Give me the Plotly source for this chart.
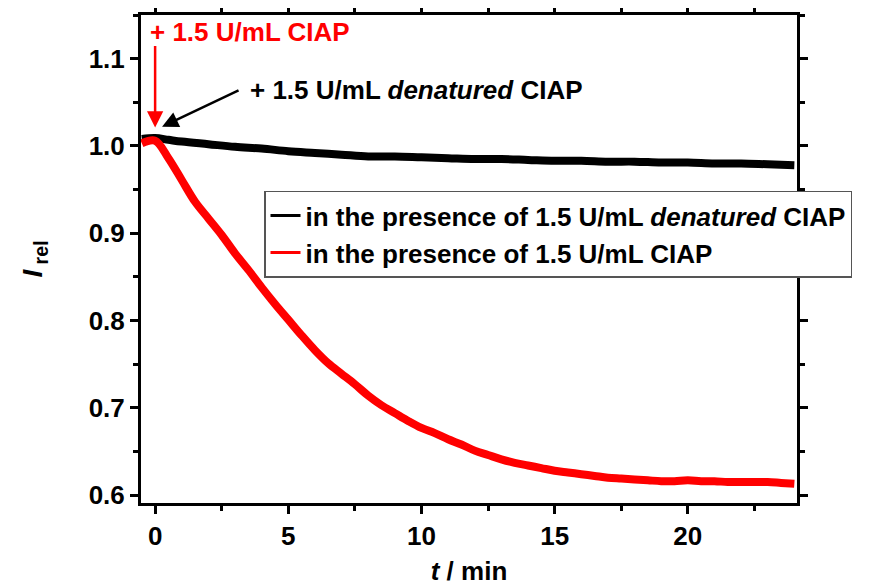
import plotly.graph_objects as go

# time (min)
t_red = [-0.5, 0.0, 0.5, 1.0, 1.5, 2.0, 2.5, 3.0, 3.5, 4.0, 4.5, 5.0, 5.5, 6.0, 6.5, 7.0, 7.5,
         8.0, 8.5, 9.0, 9.5, 10.0, 10.5, 11.0, 11.5, 12.0, 12.5, 13.0, 13.5, 14.0, 14.5, 15.0,
         15.5, 16.0, 16.5, 17.0, 17.5, 18.0, 18.5, 19.0, 19.5, 20.0, 20.5, 21.0, 21.5, 22.0,
         22.5, 23.0, 23.5, 24.0]
i_red = [1.003, 1.006, 0.986, 0.961, 0.936, 0.917, 0.898, 0.877, 0.858, 0.838, 0.819, 0.801,
         0.783, 0.766, 0.751, 0.739, 0.727, 0.714, 0.703, 0.694, 0.685, 0.677, 0.671, 0.664,
         0.658, 0.651, 0.646, 0.641, 0.637, 0.634, 0.631, 0.628, 0.626, 0.624, 0.622, 0.620,
         0.619, 0.618, 0.617, 0.616, 0.616, 0.617, 0.616, 0.616, 0.615, 0.615, 0.615, 0.615,
         0.614, 0.613]

t_black = [-0.5, 0.0, 0.5, 1.0, 2.0, 3.0, 4.0, 5.0, 6.0, 7.0, 8.0, 9.0, 10.0, 11.0, 12.0,
           13.0, 14.0, 15.0, 16.0, 17.0, 18.0, 19.0, 20.0, 21.0, 22.0, 23.0, 24.0]
i_black = [1.008, 1.009, 1.007, 1.005, 1.002, 0.999, 0.997, 0.994, 0.992, 0.990, 0.988,
           0.988, 0.987, 0.986, 0.985, 0.985, 0.984, 0.983, 0.983, 0.982, 0.982, 0.981,
           0.981, 0.980, 0.980, 0.979, 0.978]

x_ticks = [0, 5, 10, 15, 20]
y_ticks = [0.6, 0.7, 0.8, 0.9, 1.0, 1.1]
y_tick_labels = ["0.6", "0.7", "0.8", "0.9", "1.0", "1.1"]

name_black = "in the presence of 1.5 U/mL <i>denatured</i> CIAP"
name_red = "in the presence of 1.5 U/mL CIAP"

FONT = "Arial, Liberation Sans, sans-serif"
FS = 26

fig = go.Figure()
fig.add_trace(go.Scatter(x=t_black, y=i_black, mode="lines", showlegend=False,
                         line=dict(color="black", width=8, shape="spline")))
fig.add_trace(go.Scatter(x=t_red, y=i_red, mode="lines", showlegend=False,
                         line=dict(color="#ff0000", width=8, shape="spline")))
# legend entries (thin sample lines as in the reference)
fig.add_trace(go.Scatter(x=[None], y=[None], mode="lines",
                         line=dict(color="black", width=3), name=name_black))
fig.add_trace(go.Scatter(x=[None], y=[None], mode="lines",
                         line=dict(color="#ff0000", width=3), name=name_red))

axis_common = dict(
    showline=True, linecolor="black", linewidth=3, mirror="ticks",
    ticks="outside", ticklen=8, tickwidth=2.5, tickcolor="black",
    showgrid=False, zeroline=False,
    tickfont=dict(family=FONT, size=FS, color="black", weight="bold"),
)

fig.update_xaxes(range=[-0.53, 24.1], tickvals=x_ticks,
                 minor=dict(dtick=2.5, tick0=0, ticks="outside", ticklen=5, tickwidth=2.5,
                            tickcolor="black"),
                 title=dict(text="<i>t</i> / min", standoff=12,
                            font=dict(family=FONT, size=FS, color="black", weight="bold")),
                 **axis_common)
fig.update_yaxes(range=[0.591, 1.15], tickvals=y_ticks, ticktext=y_tick_labels,
                 minor=dict(dtick=0.05, tick0=0.6, ticks="outside", ticklen=5, tickwidth=2.5,
                            tickcolor="black"),
                 title=dict(text="<i>I</i><sub> rel</sub>", standoff=38,
                            font=dict(family=FONT, size=28, color="black", weight="bold")),
                 **axis_common)

# arrows
fig.add_annotation(x=0, y=1.021, xref="x", yref="y", text="", showarrow=True,
                   ax=0, ay=-83, arrowhead=2, arrowsize=1.3, arrowwidth=2.5, arrowcolor="#ff0000")
fig.add_annotation(x=0.26, y=1.022, xref="x", yref="y", text="", showarrow=True,
                   ax=78, ay=-37, arrowhead=2, arrowsize=1.3, arrowwidth=2.5, arrowcolor="black")
# texts
fig.add_annotation(x=-0.27, y=1.131, xref="x", yref="y", text="+ 1.5 U/mL CIAP",
                   showarrow=False, xanchor="left", yanchor="middle",
                   font=dict(family=FONT, size=FS, color="#ff0000", weight="bold"))
fig.add_annotation(x=3.5, y=1.064, xref="x", yref="y",
                   text="+ 1.5 U/mL <i>denatured</i> CIAP",
                   showarrow=False, xanchor="left", yanchor="middle",
                   font=dict(family=FONT, size=FS, color="black", weight="bold"))

fig.update_layout(
    width=873, height=587,
    margin=dict(l=133, r=84, t=7, b=92, autoexpand=False),
    paper_bgcolor="white", plot_bgcolor="white",
    showlegend=True,
    legend=dict(x=0.1875, y=0.64, xanchor="left", yanchor="top",
                bgcolor="white", bordercolor="#555555", borderwidth=1.5,
                font=dict(family=FONT, size=FS, color="black", weight="bold"),
                tracegroupgap=0, itemwidth=30),
)

fig.write_html("out.html")
